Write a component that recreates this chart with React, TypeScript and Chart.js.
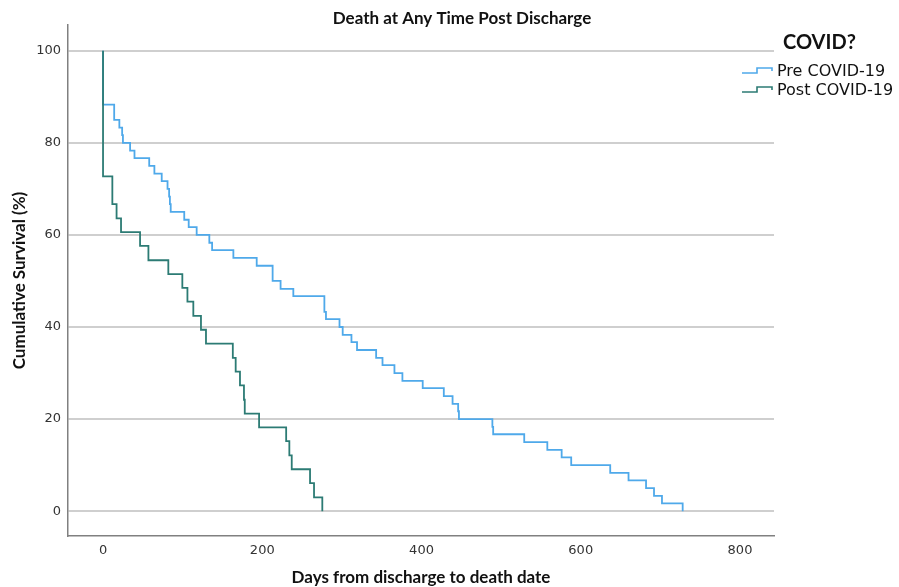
import React, { useEffect, useRef } from "react";
import { Chart, registerables } from "chart.js";

Chart.register(...registerables);

const chartTitle = "Death at Any Time Post Discharge";
const xTitle = "Days from discharge to death date";
const yTitle = "Cumulative Survival (%)";
const legendTitle = "COVID?";
const seriesNames = ["Pre COVID-19", "Post COVID-19"];
const seriesColors = ["#4fa9ea", "#2c7b74"];

const preDays = [0, 0, 14, 20.5, 24, 25, 34, 39.5, 58, 64.5, 73.7, 81, 83, 84, 85, 102, 107.6, 117.6, 133.5, 137, 163.7, 193, 213, 223, 239, 278, 280, 297, 301, 312, 319, 343, 351, 366, 376, 401.5, 428, 439, 446, 447, 489, 490, 529, 558, 576, 588, 637, 660, 682, 692, 702, 728];
const preSurvival = [100, 88.3, 85.0, 83.3, 81.7, 80.0, 78.3, 76.7, 75.0, 73.3, 71.7, 70.0, 68.3, 66.7, 65.0, 63.3, 61.7, 60.0, 58.3, 56.7, 55.0, 53.3, 50.0, 48.3, 46.7, 43.3, 41.7, 40.0, 38.3, 36.7, 35.0, 33.3, 31.7, 30.0, 28.3, 26.7, 25.0, 23.3, 21.7, 20.0, 18.3, 16.7, 15.0, 13.3, 11.7, 10.0, 8.3, 6.7, 5.0, 3.3, 1.7, 0];

const postDays = [0, 0, 11.7, 17, 22.6, 46.5, 57, 82, 99.6, 106, 113.4, 123, 129.3, 163, 166.6, 172, 177, 178, 196, 230, 234, 237, 260, 265, 275.4];
const postSurvival = [100, 72.7, 66.7, 63.6, 60.6, 57.6, 54.5, 51.5, 48.5, 45.5, 42.4, 39.4, 36.4, 33.3, 30.3, 27.3, 24.2, 21.2, 18.2, 15.2, 12.1, 9.1, 6.1, 3.0, 0];

const xTicks = [0, 200, 400, 600, 800];
const yTicks = [0, 20, 40, 60, 80, 100];

const TITLE_FONT = "Lato, 'Open Sans', sans-serif";
const TICK_FONT = "'DejaVu Sans', sans-serif";
const LEGEND_FONT = "'DejaVu Sans', sans-serif";

const decorPlugin = {
  id: "decor",
  afterDraw(chart: any) {
    const { ctx, chartArea } = chart;
    ctx.save();
    ctx.fillStyle = "#111";
    ctx.font = `bold 17px ${TITLE_FONT}`;
    ctx.textAlign = "center";
    ctx.textBaseline = "middle";
    ctx.fillText(chartTitle, 462, 19);
    ctx.fillText(xTitle, (chartArea.left + chartArea.right) / 2, 578);
    ctx.save();
    ctx.translate(20, (chartArea.top + chartArea.bottom) / 2);
    ctx.rotate(-Math.PI / 2);
    ctx.fillText(yTitle, 0, 0);
    ctx.restore();
    ctx.textAlign = "left";
    ctx.font = `bold 20px ${TITLE_FONT}`;
    ctx.fillText(legendTitle, 783, 43);
    ctx.font = `16px ${LEGEND_FONT}`;
    const rows = [72, 91];
    seriesNames.forEach((name, i) => {
      const y = rows[i];
      ctx.strokeStyle = seriesColors[i];
      ctx.lineWidth = 1.6;
      ctx.beginPath();
      ctx.moveTo(742, y + 1);
      ctx.lineTo(757, y + 1);
      ctx.lineTo(757, y - 4);
      ctx.lineTo(772, y - 4);
      ctx.lineTo(772, y - 1);
      ctx.stroke();
      ctx.fillStyle = "#111";
      ctx.fillText(name, 777, y);
    });
    ctx.restore();
  },
};

export default function App() {
  const ref = useRef<HTMLCanvasElement>(null);
  useEffect(() => {
    if (!ref.current) return;
    const chart = new Chart(ref.current, {
      type: "line",
      data: {
        datasets: [
          {
            label: seriesNames[0],
            data: preDays.map((d, i) => ({ x: d, y: preSurvival[i] })),
            borderColor: seriesColors[0],
            borderWidth: 1.8,
            stepped: "before",
            pointRadius: 0,
            fill: false,
            order: 1,
          },
          {
            label: seriesNames[1],
            data: postDays.map((d, i) => ({ x: d, y: postSurvival[i] })),
            borderColor: seriesColors[1],
            borderWidth: 1.8,
            stepped: "before",
            pointRadius: 0,
            fill: false,
            order: 0,
          },
        ],
      },
      options: {
        responsive: false,
        animation: false,
        layout: { padding: { top: 25, right: 125, left: 0, bottom: 0 } },
        plugins: {
          legend: { display: false },
          title: { display: false },
          tooltip: { enabled: false },
        },
        scales: {
          x: {
            type: "linear",
            min: -44,
            max: 842.7,
            afterFit: (s: any) => { s.height = 51; },
            afterBuildTicks: (s: any) => { s.ticks = xTicks.map((v) => ({ value: v })); },
            grid: { display: false, drawTicks: false },
            border: { display: true, color: "#808080", width: 1.5 },
            ticks: {
              padding: 7,
              color: "#333",
              font: { family: TICK_FONT, size: 13 },
              maxRotation: 0,
            },
          },
          y: {
            type: "linear",
            min: -5.4,
            max: 105.6,
            afterFit: (s: any) => { s.width = 68; },
            afterBuildTicks: (s: any) => { s.ticks = yTicks.map((v) => ({ value: v })); },
            grid: { display: true, drawTicks: false, color: "#cfcfcf", lineWidth: 2 },
            border: { display: true, color: "#808080", width: 1.5 },
            ticks: {
              padding: 7,
              color: "#333",
              font: { family: TICK_FONT, size: 13 },
            },
          },
        },
      },
      plugins: [decorPlugin],
    });
    return () => chart.destroy();
  }, []);
  return (
    <div style={{ position: "absolute", left: 0, top: 0, width: 899, height: 587, background: "#fff" }}>
      <canvas ref={ref} width={899} height={587} />
    </div>
  );
}
